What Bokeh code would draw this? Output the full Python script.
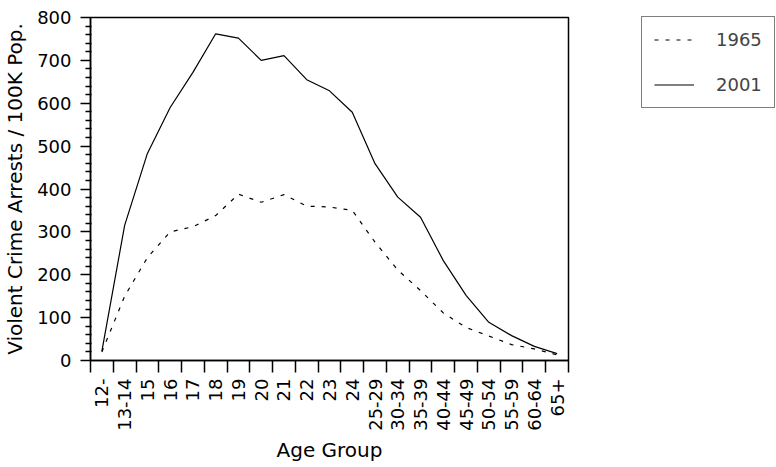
import math
from bokeh.plotting import figure
from bokeh.models import FixedTicker, Legend, LegendItem, ColumnDataSource
from bokeh.embed import file_html
from bokeh.resources import INLINE

age_groups = ["12-", "13-14", "15", "16", "17", "18", "19", "20", "21", "22", "23", "24",
              "25-29", "30-34", "35-39", "40-44", "45-49", "50-54", "55-59", "60-64", "65+"]
arrests_1965 = [20, 150, 240, 300, 312, 338, 388, 369, 387, 360, 358, 350,
                276, 211, 163, 111, 77, 57, 37, 27, 13]
arrests_2001 = [22, 315, 483, 590, 672, 762, 752, 700, 711, 655, 629, 579,
                459, 381, 334, 233, 152, 89, 58, 33, 16]
y_ticks = [0, 100, 200, 300, 400, 500, 600, 700, 800]

FONT = "DejaVu Sans"
TICK_FS = "18px"
LABEL_FS = "20px"

xpos = [i + 0.5 for i in range(len(age_groups))]
src = ColumnDataSource(dict(x=xpos, y65=arrests_1965, y01=arrests_2001))

p = figure(frame_width=478, frame_height=343, output_backend="svg", toolbar_location=None,
           x_range=(0, len(age_groups)), y_range=(0, 800),
           min_border_left=90, min_border_right=208, min_border_top=17, min_border_bottom=0)
p.grid.visible = False
p.outline_line_color = "black"
p.outline_line_width = 1.5
p.background_fill_color = "white"
p.border_fill_color = "white"

r65 = p.line("x", "y65", source=src, line_color="black", line_width=1.2, line_dash="4 7")
r01 = p.line("x", "y01", source=src, line_color="black", line_width=1.2)

# x axis
p.xaxis.ticker = FixedTicker(ticks=xpos, minor_ticks=list(range(len(age_groups) + 1)))
p.xaxis.major_label_overrides = {x: lab for x, lab in zip(xpos, age_groups)}
p.xaxis.major_label_orientation = math.pi / 2
p.xaxis.major_tick_out = 0
p.xaxis.major_tick_in = 0
p.xaxis.minor_tick_out = 12
p.xaxis.minor_tick_in = 0
p.xaxis.major_label_standoff = 6
p.xaxis.axis_label = "Age Group"
p.xaxis.axis_label_standoff = 4

# y axis
yminor = [v for v in range(0, 801, 20) if v % 100 != 0]
p.yaxis.ticker = FixedTicker(ticks=y_ticks, minor_ticks=yminor)
p.yaxis.major_tick_out = 10
p.yaxis.major_tick_in = 0
p.yaxis.minor_tick_out = 5
p.yaxis.minor_tick_in = 1
p.yaxis.major_label_standoff = 9
p.yaxis.axis_label = "Violent Crime Arrests / 100K Pop."
p.yaxis.axis_label_standoff = 7

for ax in (p.xaxis, p.yaxis):
    ax.axis_line_color = "black"
    ax.axis_line_width = 1.5
    ax.major_tick_line_color = "black"
    ax.major_tick_line_width = 1.5
    ax.minor_tick_line_color = "black"
    ax.minor_tick_line_width = 1.5
    ax.major_label_text_font = FONT
    ax.major_label_text_font_size = TICK_FS
    ax.major_label_text_color = "black"
    ax.axis_label_text_font = FONT
    ax.axis_label_text_font_size = LABEL_FS
    ax.axis_label_text_font_style = "normal"
    ax.axis_label_text_color = "black"

legend = Legend(items=[LegendItem(label="1965", renderers=[r65]),
                       LegendItem(label="2001", renderers=[r01])],
                location=(73, 252), orientation="vertical",
                border_line_color="black", border_line_width=1.5,
                padding=12, margin=0, spacing=24,
                glyph_width=40, glyph_height=21, label_height=21,
                label_standoff=22,
                label_text_font=FONT, label_text_font_size=TICK_FS,
                background_fill_alpha=1.0)
p.add_layout(legend, "right")

open("out.html", "w").write(file_html(p, INLINE))
